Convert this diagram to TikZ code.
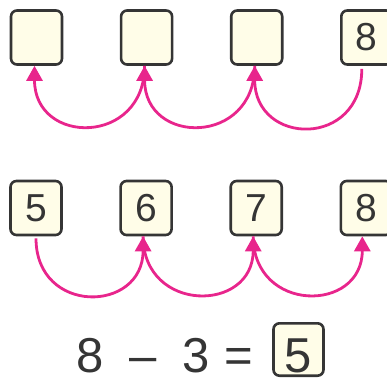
\documentclass[tikz,border=0pt]{standalone}
\usepackage{fontspec}
\setmainfont{Liberation Sans}
\usetikzlibrary{arrows.meta,positioning}
\definecolor{boxfill}{HTML}{FFFDE8}
\definecolor{boxline}{HTML}{353535}
\definecolor{hopcol}{HTML}{E8258C}

\begin{document}
\begin{tikzpicture}[x=1pt,y=1pt,
    numbox/.style={draw=boxline, fill=boxfill, line width=2.6pt, rounded corners=6pt,
        minimum width=51pt, minimum height=54pt, inner sep=0pt,
        font=\fontsize{39}{39}\selectfont, text=boxline},
    eqbox/.style={numbox, minimum width=50pt, minimum height=0pt,
        text height=48.7pt, text depth=3.7pt, anchor=base,
        font=\fontsize{49}{49}\selectfont},
    eqtext/.style={anchor=base, inner sep=0pt, text=boxline,
        font=\fontsize{49}{49}\selectfont},
    hop/.style={draw=hopcol, line width=2.8pt, -{Triangle[length=15pt,width=16pt]}}]
    \useasboundingbox (0,0) rectangle (387,378);

    % Top row
    \node[numbox] (t1) at (36.5,340.5) {};
    \node[numbox, right=56.5pt of t1] (t2) {};
    \node[numbox, right=56.5pt of t2] (t3) {};
    \node[numbox, right=56.5pt of t3] (t4) {8};

    % Top row hops
    \draw[hop] ([xshift=-5pt,yshift=-3pt]t4.south) .. controls +(0,-80) and +(0,-80) .. ([xshift=-2pt]t3.south);
    \draw[hop] ([xshift=-2pt]t3.south) .. controls +(0,-80) and +(0,-80) .. ([xshift=-2pt]t2.south);
    \draw[hop] ([xshift=-2pt]t2.south) .. controls +(0,-80) and +(0,-80) .. ([xshift=-2pt]t1.south);

    % Bottom row
    \node[numbox] (b1) at (36,170) {5};
    \node[numbox, right=56.5pt of b1] (b2) {6};
    \node[numbox, right=56.5pt of b2] (b3) {7};
    \node[numbox, right=56.5pt of b3] (b4) {8};

    % Bottom row hops
    \draw[hop] ([yshift=-2pt]b1.south) .. controls +(0,-77) and +(0,-77) .. ([xshift=-3pt]b2.south);
    \draw[hop] ([xshift=-3pt]b2.south) .. controls +(0,-77) and +(0,-77) .. ([xshift=-3pt]b3.south);
    \draw[hop] ([xshift=-3pt]b3.south) .. controls +(0,-77) and +(0,-77) .. ([xshift=-4pt]b4.south);

    % Equation
    \node[eqtext] (m8) at (90,6) {8};
    \node[eqtext] (mdash) at (143.5,6) {–};
    \node[eqtext] (m3) at (196.5,6) {3};
    \node[eqtext] (meq) at (238.5,6) {=};
    \node[eqbox] (res) at (298.5,6) {5};
\end{tikzpicture}
\end{document}
